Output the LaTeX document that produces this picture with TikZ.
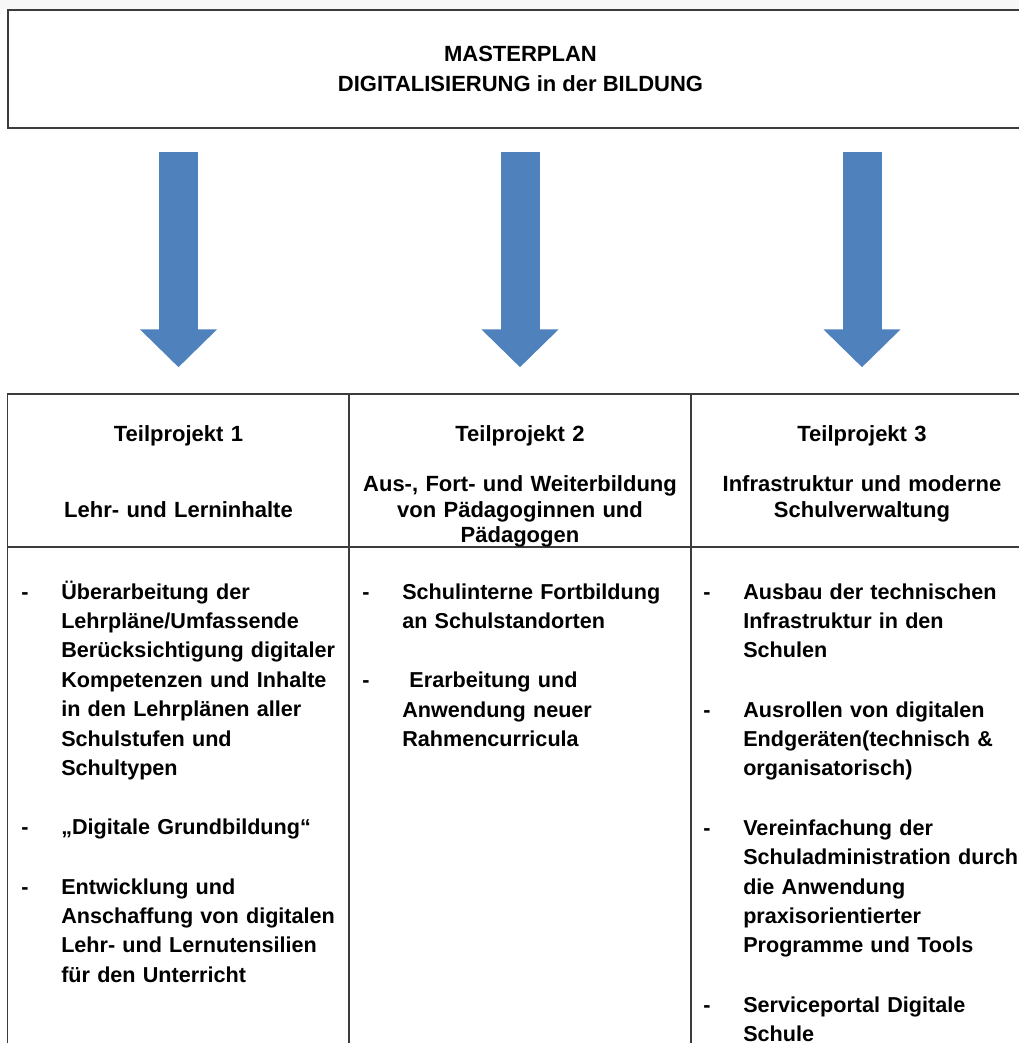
\documentclass[tikz,border=0pt]{standalone}
\usepackage{fontspec}
\setmainfont{Liberation Sans}
\usetikzlibrary{arrows.meta,positioning}
\definecolor{arrowblue}{HTML}{4F81BD}
\definecolor{rulegray}{HTML}{3C3C3C}

\begin{document}
\begin{tikzpicture}[
  x=0.75pt, y=-0.75pt,
  node distance=22.05pt,
  bodyfont/.style={font=\fontsize{16.2pt}{22.05pt}\selectfont\bfseries},
  titlebox/.style={draw=rulegray, line width=1.5pt, minimum width=768.75pt, minimum height=88.5pt, align=center, inner sep=0pt, font=\fontsize{16.5pt}{22.05pt}\selectfont\bfseries},
  headcell/.style={draw=rulegray, line width=1.1pt, minimum width=256.5pt, minimum height=114.75pt, inner sep=0pt},
  bodycell/.style={draw=rulegray, line width=1.1pt, minimum width=256.5pt, minimum height=489.75pt, inner sep=0pt},
  headtext/.style={anchor=base, text width=245pt, align=center, inner sep=0pt, font=\fontsize{16.5pt}{19pt}\selectfont\bfseries},
  itemtext/.style={anchor=base west, text width=230pt, align=left, inner sep=0pt, bodyfont, execute at begin node=\strut, execute at end node=\strut},
  dashmark/.style={anchor=base west, inner sep=0pt, bodyfont},
  blockarrow/.style={draw=arrowblue, line width=29.25pt, -{Triangle[width=56.25pt, length=28.5pt]}, shorten <=17.25pt, shorten >=19.5pt}
]
  \useasboundingbox (0,0) rectangle (1019,1043);
  \clip (0,0) rectangle (1019,1043);
  \fill[black!3] (0,0) rectangle (1019,9);

  % Masterplan
  \node[titlebox] (master) at (520.5,69) {MASTERPLAN\\DIGITALISIERUNG in der BILDUNG};

  % Table cells
  \node[headcell] (tp1) at (178.5,470.5) {};
  \node[headcell] (tp2) at (520,470.5) {};
  \node[headcell] (tp3) at (862,470.5) {};
  \node[bodycell] (bc1) at (178.5,873.5) {};
  \node[bodycell] (bc2) at (520,873.5) {};
  \node[bodycell] (bc3) at (862,873.5) {};

  % Headers
  \node[headtext] (tt1) at ([yshift=-36pt]tp1.north) {Teilprojekt 1\\[38pt]Lehr- und Lerninhalte};
  \node[headtext] (tt2) at ([yshift=-36pt]tp2.north) {Teilprojekt 2\\[19pt]Aus-, Fort- und Weiterbildung\\von Pädagoginnen und\\Pädagogen};
  \node[headtext] (tt3) at ([yshift=-36pt]tp3.north) {Teilprojekt 3\\[19pt]Infrastruktur und moderne\\Schulverwaltung};

  % Arrows
  \draw[blockarrow] (master.south -| tp1.north) -- (tp1.north);
  \draw[blockarrow] (master.south -| tp2.north) -- (tp2.north);
  \draw[blockarrow] (master.south -| tp3.north) -- (tp3.north);

  % Items Teilprojekt 1
  \node[itemtext] (i11) at (61,599) {Überarbeitung der\\Lehrpläne/Umfassende\\Berücksichtigung digitaler\\Kompetenzen und Inhalte\\in den Lehrplänen aller\\Schulstufen und\\Schultypen};
  \node[itemtext, below=of i11.south west, anchor=north west] (i12) {„Digitale Grundbildung“};
  \node[itemtext, below=of i12.south west, anchor=north west] (i13) {Entwicklung und\\Anschaffung von digitalen\\Lehr- und Lernutensilien\\für den Unterricht};
  \node[dashmark] (d11) at ([xshift=-30pt]i11.base west) {-};
  \node[dashmark] (d12) at ([xshift=-30pt]i12.base west) {-};
  \node[dashmark] (d13) at ([xshift=-30pt]i13.base west) {-};

  % Items Teilprojekt 2
  \node[itemtext] (i21) at (402,599) {Schulinterne Fortbildung\\an Schulstandorten};
  \node[itemtext, below=of i21.south west, anchor=north west] (i22) {\ Erarbeitung und\\Anwendung neuer\\Rahmencurricula};
  \node[dashmark] (d21) at ([xshift=-30pt]i21.base west) {-};
  \node[dashmark] (d22) at ([xshift=-30pt]i22.base west) {-};

  % Items Teilprojekt 3
  \node[itemtext] (i31) at (743,599) {Ausbau der technischen\\Infrastruktur in den\\Schulen};
  \node[itemtext, below=of i31.south west, anchor=north west] (i32) {Ausrollen von digitalen\\Endgeräten(technisch \&\\organisatorisch)};
  \node[itemtext, below=of i32.south west, anchor=north west] (i33) {Vereinfachung der\\Schuladministration durch\\die Anwendung\\praxisorientierter\\Programme und Tools};
  \node[itemtext, below=of i33.south west, anchor=north west] (i34) {Serviceportal Digitale\\Schule};
  \node[dashmark] (d31) at ([xshift=-30pt]i31.base west) {-};
  \node[dashmark] (d32) at ([xshift=-30pt]i32.base west) {-};
  \node[dashmark] (d33) at ([xshift=-30pt]i33.base west) {-};
  \node[dashmark] (d34) at ([xshift=-30pt]i34.base west) {-};
\end{tikzpicture}
\end{document}
